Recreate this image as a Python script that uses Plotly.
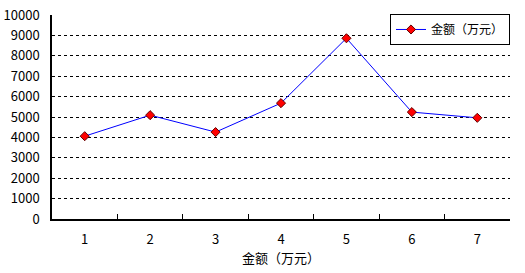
import plotly.graph_objects as go

categories = ["1", "2", "3", "4", "5", "6", "7"]
values = [4060, 5090, 4260, 5680, 8860, 5240, 4960]
series_name = "金额（万元）"
x_title = "金额（万元）"
y_ticks = [0, 1000, 2000, 3000, 4000, 5000, 6000, 7000, 8000, 9000, 10000]

font_family = "SimSun, 'Noto Sans CJK SC', sans-serif"

fig = go.Figure()
fig.add_trace(go.Scatter(
    x=categories, y=values, name=series_name, mode="lines+markers",
    line=dict(color="#0000FF", width=1),
    marker=dict(symbol="diamond", size=7, color="#FF0000",
                line=dict(color="#600000", width=1)),
    showlegend=True,
))

fig.update_layout(
    width=525, height=273,
    margin=dict(l=52, r=15, t=15, b=54),
    paper_bgcolor="white", plot_bgcolor="white",
    font=dict(family=font_family, size=13, color="black"),
    showlegend=True,
    legend=dict(x=1, y=1.005, xanchor="right", yanchor="top",
                bordercolor="black", borderwidth=1, bgcolor="white",
                font=dict(size=12), itemwidth=30,
                tracegroupgap=0),
    xaxis=dict(
        type="category", range=[-0.5, 6.5], tickson="boundaries",
        ticks="inside", ticklen=5, tickcolor="black", automargin=False,
        showline=True, linecolor="black", linewidth=1.5,
        showgrid=False, ticklabelstandoff=8,
        title=dict(text=x_title, font=dict(size=13), standoff=3),
    ),
    yaxis=dict(
        range=[0, 10000], tickvals=y_ticks, ticktext=[str(v) for v in y_ticks],
        showline=True, linecolor="black", linewidth=1.5, automargin=False,
        showgrid=True, gridcolor="black", gridwidth=1, griddash="3px,3px",
        zeroline=False, ticks="", ticklabelstandoff=8,
    ),
)

fig.write_html("out.html")
